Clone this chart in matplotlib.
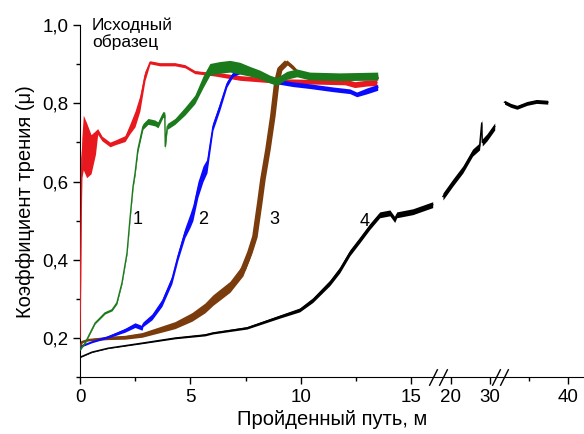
import numpy as np
import matplotlib
matplotlib.use('agg')
import matplotlib.pyplot as plt
from matplotlib.ticker import FixedLocator, FuncFormatter

plt.rcParams['font.family'] = ['Liberation Sans', 'DejaVu Sans']

# piecewise scale for the broken x axis (16..20 squeezed, 20..30 and 30..40 compressed)
x_knots = [-10, 0, 16, 20, 30, 100]
u_knots = [-10, 0, 16, 16.79, 18.55, 18.55 + 70 * 0.353]

def fwd(x):
    return np.interp(x, x_knots, u_knots)

def inv(u):
    return np.interp(u, u_knots, x_knots)

# ---- data: x, centre y, width of noise band ----
red_x = [0.0, 0.08, 0.15, 0.3, 0.5, 0.7, 0.8, 1.0, 1.36, 1.58, 2.04, 2.26, 2.49, 2.71,
         2.94, 3.17, 3.62, 4.3, 4.75, 5.2, 5.66, 6.1, 7.24, 9.05, 10.86, 12.0, 12.44, 13.0, 13.44]
red_y = [0.20, 0.66, 0.70, 0.68, 0.67, 0.70, 0.728, 0.71, 0.695, 0.70, 0.71, 0.735, 0.76, 0.80,
         0.87, 0.905, 0.90, 0.90, 0.895, 0.88, 0.877, 0.875, 0.865, 0.857, 0.855, 0.855, 0.848, 0.852, 0.853]
red_w = [0.0, 0.1, 0.14, 0.14, 0.1, 0.06, 0.015, 0.012, 0.012, 0.012, 0.015, 0.025, 0.04, 0.04,
         0.025, 0.008, 0.008, 0.008, 0.008, 0.008, 0.008, 0.01, 0.012, 0.012, 0.012, 0.015, 0.015, 0.015, 0.015]

green_x = [0.0, 0.23, 0.68, 1.13, 1.45, 1.67, 1.9, 2.13, 2.26, 2.4, 2.49, 2.62, 2.85, 3.08,
           3.39, 3.53, 3.76, 3.84, 3.86, 3.95, 4.3, 4.75, 5.2, 5.57, 5.88, 6.33, 6.79, 7.24,
           7.69, 8.14, 8.6, 8.91, 9.37, 9.82, 10.4, 11.76, 13.48]
green_y = [0.17, 0.187, 0.238, 0.264, 0.272, 0.29, 0.341, 0.418, 0.503, 0.587, 0.62, 0.682, 0.741, 0.754,
           0.75, 0.745, 0.772, 0.77, 0.69, 0.741, 0.754, 0.78, 0.81, 0.855, 0.887, 0.892, 0.895, 0.89,
           0.882, 0.874, 0.862, 0.856, 0.872, 0.878, 0.87, 0.868, 0.87]
green_w = [0.003, 0.003, 0.004, 0.005, 0.005, 0.006, 0.006, 0.006, 0.008, 0.008, 0.01, 0.012, 0.015, 0.015,
           0.015, 0.015, 0.015, 0.015, 0.015, 0.015, 0.015, 0.02, 0.022, 0.03, 0.03, 0.03, 0.03, 0.03,
           0.025, 0.022, 0.02, 0.02, 0.02, 0.02, 0.02, 0.02, 0.02]

blue_x = [0.0, 0.09, 0.54, 1.27, 2.04, 2.49, 2.81, 2.85, 3.26, 3.71, 4.16, 4.43, 4.75, 4.98, 5.11,
          5.34, 5.57, 5.75, 5.88, 6.02, 6.33, 6.65, 6.92, 7.24, 7.83, 8.46, 8.91, 9.64, 10.41,
          11.45, 12.22, 12.53, 12.99, 13.48]
blue_y = [0.17, 0.18, 0.19, 0.203, 0.22, 0.233, 0.226, 0.235, 0.254, 0.29, 0.349, 0.408, 0.469, 0.50, 0.52,
          0.58, 0.62, 0.64, 0.69, 0.741, 0.792, 0.849, 0.874, 0.882, 0.878, 0.867, 0.856, 0.849, 0.844,
          0.836, 0.831, 0.823, 0.832, 0.841]
blue_w = [0.004, 0.004, 0.004, 0.006, 0.01, 0.012, 0.012, 0.012, 0.015, 0.018, 0.02, 0.02, 0.025, 0.035, 0.04,
          0.04, 0.04, 0.035, 0.03, 0.02, 0.02, 0.015, 0.012, 0.012, 0.012, 0.012, 0.012, 0.012, 0.012,
          0.012, 0.012, 0.012, 0.015, 0.015]

brown_x = [0.0, 0.09, 0.36, 1.27, 2.04, 2.81, 3.53, 4.3, 5.07, 5.66, 6.02, 6.79, 7.38, 7.69, 7.92,
           8.14, 8.28, 8.51, 8.73, 8.91, 9.05, 9.37, 9.64, 9.95, 10.32, 11.31, 13.48]
brown_y = [0.175, 0.19, 0.195, 0.2, 0.202, 0.208, 0.22, 0.233, 0.254, 0.277, 0.297, 0.331, 0.374, 0.418, 0.459,
           0.546, 0.605, 0.682, 0.767, 0.854, 0.887, 0.905, 0.892, 0.874, 0.868, 0.865, 0.865]
brown_w = [0.004, 0.004, 0.005, 0.008, 0.01, 0.012, 0.015, 0.018, 0.022, 0.025, 0.027, 0.028, 0.03, 0.028, 0.025,
           0.02, 0.02, 0.02, 0.02, 0.015, 0.012, 0.012, 0.012, 0.01, 0.01, 0.01, 0.01]

black_x = [[0.0, 0.54, 1.27, 2.81, 4.3, 5.66, 6.02, 7.56, 9.05, 9.95, 10.54, 11.31, 11.76, 12.22,
            12.67, 13.12, 13.57, 14.03, 14.25, 14.34, 15.07, 15.97],
           [18.2, 20.5, 23.1, 25.6, 27.4, 27.95, 28.1, 29.3, 30.65],
           [31.9, 32.7, 33.5, 34.8, 36.0, 37.45]]
black_y = [[0.151, 0.164, 0.174, 0.187, 0.2, 0.208, 0.213, 0.226, 0.255, 0.272, 0.297, 0.341, 0.374, 0.418,
            0.451, 0.485, 0.515, 0.52, 0.503, 0.515, 0.523, 0.541],
           [0.562, 0.597, 0.631, 0.674, 0.69, 0.75, 0.70, 0.713, 0.741],
           [0.803, 0.795, 0.79, 0.80, 0.805, 0.803]]
black_w = [[0.002, 0.002, 0.002, 0.003, 0.004, 0.005, 0.005, 0.006, 0.008, 0.01, 0.012, 0.014, 0.015, 0.015,
            0.015, 0.015, 0.015, 0.015, 0.015, 0.015, 0.015, 0.015],
           [0.018, 0.018, 0.018, 0.018, 0.018, 0.018, 0.018, 0.018, 0.018],
           [0.01, 0.01, 0.01, 0.01, 0.01, 0.01]]

curve_labels = ['1', '2', '3', '4']
label_x = [2.62, 5.57, 8.82, 12.9]
label_y = [0.503, 0.503, 0.503, 0.498]

x_major = [0, 5, 10, 15, 20, 30, 40]
x_minor = [2.5, 7.5, 12.5, 35]
breaks = [15.97, 18.2, 30.77, 31.8]

red = '#e8191e'
green = '#1b7a1b'
blue = '#0a0aff'
brown = '#7a3c0c'


def band(ax, x, y, w, color, lw, z):
    x = np.array(x)
    y = np.array(y)
    w = np.array(w)
    ax.fill_between(x, y - w / 2, y + w / 2, color=color, lw=0, zorder=z)
    ax.plot(x, y, color=color, lw=lw, zorder=z)


fig = plt.figure(figsize=(5.84, 4.34), dpi=100)
ax = fig.add_axes([0.137, 0.131, 0.863, 0.811])
ax.set_xscale('function', functions=(fwd, inv))

for bx, by, bw in zip(black_x, black_y, black_w):
    band(ax, bx, by, bw, 'black', 1.0, 2)
band(ax, brown_x, brown_y, brown_w, brown, 1.5, 3)
# steep part of curve 3 is drawn as a wide smeared trace
ax.plot(brown_x[12:22], brown_y[12:22], color=brown, lw=4, solid_capstyle='butt', zorder=3)
band(ax, red_x, red_y, red_w, red, 1.0, 4)
band(ax, blue_x, blue_y, blue_w, blue, 1.0, 5)
band(ax, green_x, green_y, green_w, green, 1.0, 6)

for t, tx, ty in zip(curve_labels, label_x, label_y):
    ax.text(tx, ty, t, fontsize=13, ha='center', va='center', zorder=10)
ax.text(0.54, 1.02, 'Исходный\nобразец', fontsize=12.5, ha='left', va='top',
        linespacing=1.1, clip_on=False)

ax.set_xlim(0, 42.1)
ax.set_ylim(0.1, 1.0)
ax.xaxis.set_major_locator(FixedLocator(x_major))
ax.xaxis.set_minor_locator(FixedLocator(x_minor))
ax.yaxis.set_major_locator(FixedLocator([0.2, 0.4, 0.6, 0.8, 1.0]))
ax.yaxis.set_minor_locator(FixedLocator([0.1, 0.3, 0.5, 0.7, 0.9]))
ax.xaxis.set_major_formatter(FuncFormatter(lambda v, p: '%d' % v))
ax.yaxis.set_major_formatter(FuncFormatter(lambda v, p: ('%.1f' % v).replace('.', ',')))
ax.tick_params(which='major', direction='out', length=5, width=1, labelsize=13.5)
ax.tick_params(which='minor', direction='out', length=3, width=1)
for s in ['top', 'right']:
    ax.spines[s].set_visible(False)

# break marks on the x axis
ax.plot(breaks, [0] * len(breaks), ls='none', marker=[(-1, -2), (1, 2)], ms=12,
        mec='black', mew=1, transform=ax.get_xaxis_transform(), clip_on=False, zorder=10)

ax.set_xlabel('Пройденный путь, м', fontsize=14.5, labelpad=3)
ax.set_ylabel('Коэффициент трения (μ)', fontsize=14.5, labelpad=5)

fig.savefig('out.png', dpi=100)
